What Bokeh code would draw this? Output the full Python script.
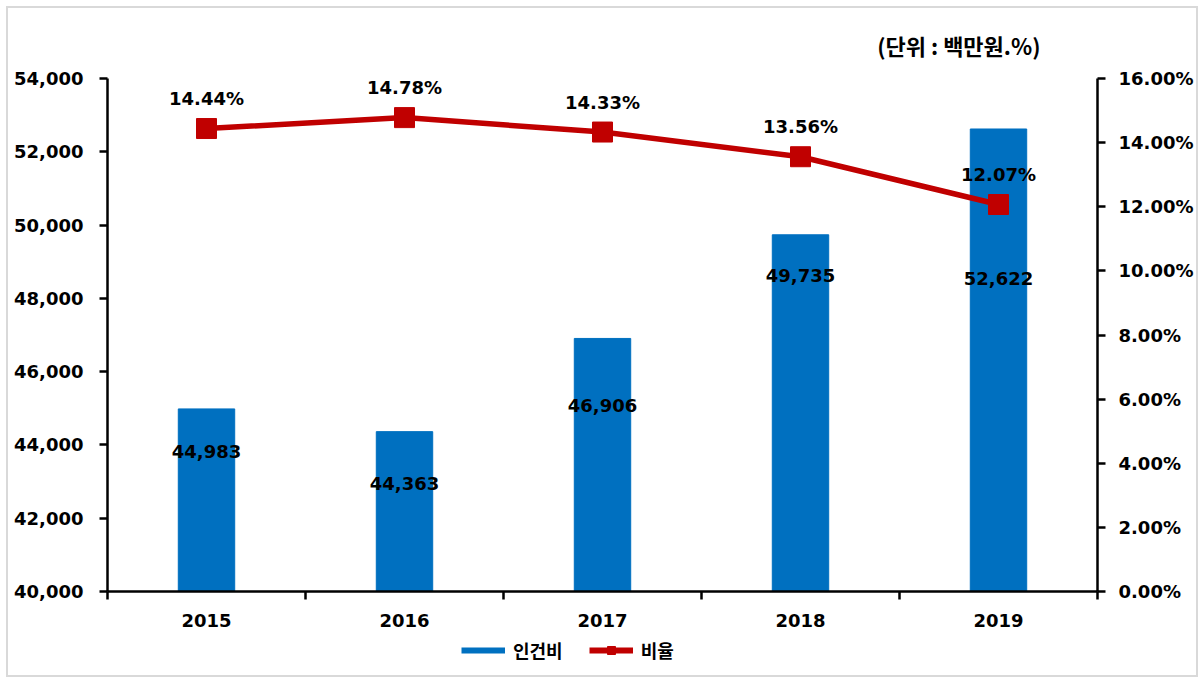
from bokeh.plotting import figure
from bokeh.layouts import column
from bokeh.models import (Range1d, LinearAxis, FixedTicker, PrintfTickFormatter,
                          NumeralTickFormatter, ColumnDataSource, Legend, LegendItem, Title)
from bokeh.core.properties import value
from bokeh.embed import file_html
from bokeh.resources import INLINE

years = ["2015", "2016", "2017", "2018", "2019"]
labor_cost = [44983, 44363, 46906, 49735, 52622]
ratio = [14.44, 14.78, 14.33, 13.56, 12.07]
left_ticks = [40000, 42000, 44000, 46000, 48000, 50000, 52000, 54000]
right_ticks = [0, 2, 4, 6, 8, 10, 12, 14, 16]
series_names = ["인건비", "비율"]

# label offsets (pixels below bar top) - layout only
bar_label_drop = [43, 52, 67, 41, 150]

FONT = "DejaVu Sans"
KFONT = "Noto Sans CJK KR"
BLUE = "#0070C0"
RED = "#C00000"

xs = list(range(len(years)))
src = ColumnDataSource(dict(
    x=xs, cost=labor_cost, ratio=ratio,
    cost_txt=[f"{v:,}" for v in labor_cost],
    ratio_txt=[f"{v:.2f}%" for v in ratio],
    drop=bar_label_drop,
))

W = 1188
H_MAIN = 630
H_LEG = 37

p = figure(width=W, height=H_MAIN, output_backend="svg", toolbar_location=None,
           x_range=Range1d(-0.5, 4.5), y_range=Range1d(40000, 54000))
p.min_border_left = 99
p.min_border_right = 94
p.min_border_top = 70
p.min_border_bottom = H_MAIN - 70 - 513
p.outline_line_color = None
p.grid.visible = False

p.extra_y_ranges = {"pct": Range1d(0, 16)}

# bars
p.vbar(x="x", top="cost", bottom=40000, width=0.285, color=BLUE, source=src)

# line
p.line(x="x", y="ratio", y_range_name="pct", line_color=RED, line_width=5.5, source=src)
p.scatter(x="x", y="ratio", y_range_name="pct", marker="square", size=20,
          fill_color=RED, line_color=RED, source=src)

# bar labels
p.text(x="x", y="cost", text="cost_txt", y_offset="drop", text_align="center",
       text_baseline="middle", text_font=value(FONT), text_font_style="bold",
       text_font_size="18px", text_color="black", source=src)
# ratio labels
p.text(x="x", y="ratio", text="ratio_txt", y_range_name="pct", y_offset=-30,
       text_align="center", text_baseline="middle", text_font=value(FONT),
       text_font_style="bold", text_font_size="18px", text_color="black", source=src)

# axes styling
def style_axis(ax):
    ax.axis_line_color = "black"
    ax.axis_line_width = 2.5
    ax.major_tick_line_color = "black"
    ax.major_tick_line_width = 2.5
    ax.major_tick_in = 0
    ax.major_tick_out = 8
    ax.minor_tick_line_color = None
    ax.major_label_text_font = FONT
    ax.major_label_text_font_style = "bold"
    ax.major_label_text_font_size = "18px"
    ax.major_label_text_color = "black"

xa = p.xaxis[0]
style_axis(xa)
xa.ticker = FixedTicker(ticks=xs, minor_ticks=[-0.5, 0.5, 1.5, 2.5, 3.5, 4.5])
xa.major_label_overrides = {i: y for i, y in enumerate(years)}
xa.major_tick_line_color = None
xa.minor_tick_line_color = "black"
xa.minor_tick_line_width = 2.5
xa.minor_tick_in = 0
xa.minor_tick_out = 8
xa.major_label_standoff = 14

ya = p.yaxis[0]
style_axis(ya)
ya.ticker = FixedTicker(ticks=left_ticks)
ya.formatter = NumeralTickFormatter(format="0,0")
ya.major_label_standoff = 16

ra = LinearAxis(y_range_name="pct", ticker=FixedTicker(ticks=right_ticks),
                formatter=PrintfTickFormatter(format="%.2f%%"))
style_axis(ra)
ra.major_label_standoff = 13
p.add_layout(ra, "right")

# unit title
p.title = Title(text="(단위 : 백만원.%)", align="right", offset=57, standoff=36,
                text_font=KFONT, text_font_style="bold", text_font_size="22px",
                text_color="black")

# legend figure
lg = figure(width=W, height=H_LEG, output_backend="svg", toolbar_location=None,
            x_range=Range1d(0, 1), y_range=Range1d(0, 1),
            x_axis_location=None, y_axis_location=None)
lg.min_border = 0
lg.min_border_left = 0
lg.min_border_right = 0
lg.min_border_top = 0
lg.min_border_bottom = 0
lg.outline_line_color = None
lg.grid.visible = False
r_cost = lg.line(x=[5, 6], y=[5, 5], line_color=BLUE, line_width=6)
r_ratio_l = lg.line(x=[5, 6], y=[5, 5], line_color=RED, line_width=6)
r_ratio_m = lg.scatter(x=[5], y=[5], marker="square", size=13, fill_color=RED, line_color=RED)
legend = Legend(items=[LegendItem(label=series_names[0], renderers=[r_cost]),
                       LegendItem(label=series_names[1], renderers=[r_ratio_l, r_ratio_m])],
                orientation="horizontal", location=(354, 12))
legend.label_text_font = KFONT
legend.label_text_font_style = "bold"
legend.label_text_font_size = "18px"
legend.label_text_color = "black"
legend.glyph_width = 44
legend.glyph_height = 20
legend.spacing = 26
legend.padding = 0
legend.margin = 0
legend.border_line_color = None
legend.background_fill_alpha = 0
legend.label_standoff = 8
lg.add_layout(legend, "center")

layout = column(p, lg, spacing=0,
                styles={"border": "2px solid #d9d9d9", "margin": "6px 0 0 6px"})

open("out.html", "w").write(file_html(layout, INLINE))
